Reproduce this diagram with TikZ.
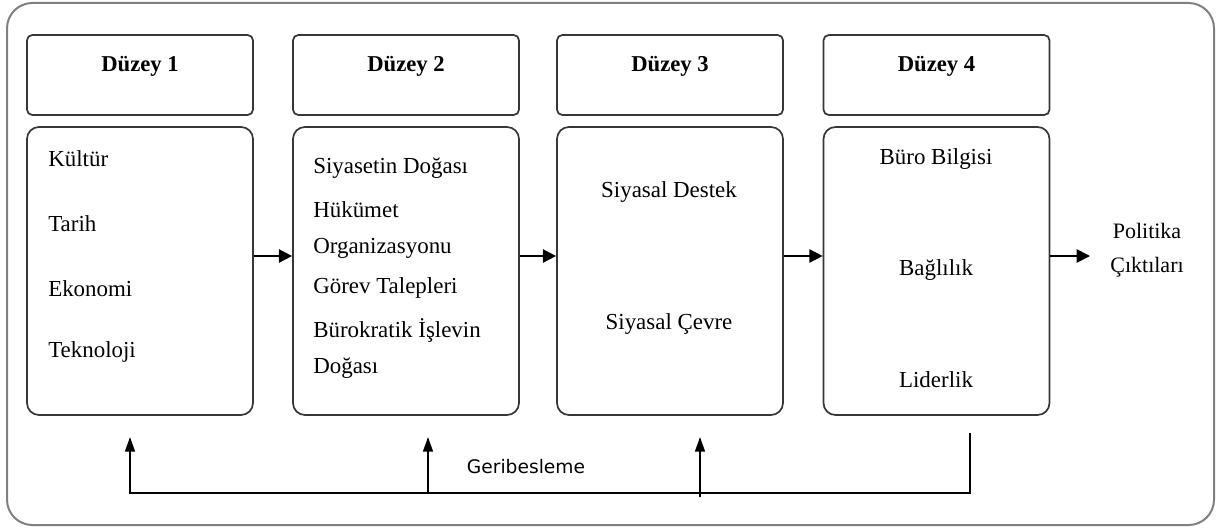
\documentclass[tikz,border=0pt]{standalone}
\usepackage{fontspec}
\setmainfont{Liberation Serif}
\newfontfamily\sansfb{DejaVu Sans}
\usetikzlibrary{positioning,arrows.meta}
\definecolor{FrameGray}{RGB}{128,128,128}
\definecolor{BoxEdge}{RGB}{55,55,55}

\begin{document}
\begin{tikzpicture}[x=0.75pt,y=-0.75pt,every node/.style={font=\fontsize{17.2}{20}\selectfont,inner sep=0pt},
  hdr/.style={draw=BoxEdge,line width=1.3pt,rounded corners=4pt,minimum width=169.5pt,minimum height=60pt},
  cnt/.style={draw=BoxEdge,line width=1.3pt,rounded corners=9pt,minimum width=169.5pt,minimum height=216pt},
  ttl/.style={font=\fontsize{17}{20}\selectfont\bfseries},
  flow/.style={-{Triangle[length=10pt,width=10pt]},line width=1.3pt},
  back/.style={-{Triangle[length=11pt,width=7.5pt]},line width=1.1pt}]
\useasboundingbox (0,0) rectangle (1216,528);
\draw[FrameGray,line width=1.5pt,rounded corners=19pt] (7,3) rectangle (1214,525);

% headers
\node[hdr] (h1) at (140,75) {};
\node[hdr] (h2) at (406,75) {};
\node[hdr] (h3) at (670,75) {};
\node[hdr] (h4) at (936.5,75) {};
\node[ttl] (d1) at (140,66) {Düzey 1};
\node[ttl] (d2) at (406,66) {Düzey 2};
\node[ttl] (d3) at (670,66) {Düzey 3};
\node[ttl] (d4) at (936.5,66) {Düzey 4};

% boxes
\node[cnt] (c1) at (140,271) {};
\node[cnt] (c2) at (406,271) {};
\node[cnt] (c3) at (670,271) {};
\node[cnt] (c4) at (936.5,271) {};

\node[anchor=west] (k1) at (48,159) {Kültür};
\node[anchor=west] (k2) at (48,224) {Tarih};
\node[anchor=west] (k3) at (48,289) {Ekonomi};
\node[anchor=west] (k4) at (48,352) {Teknoloji};

\node[anchor=west] (s1) at (313,168) {Siyasetin Doğası};
\node[anchor=west] (s2) at (313,210) {Hükümet};
\node[anchor=west] (s3) at (313,248) {Organizasyonu};
\node[anchor=west] (s4) at (313,288) {Görev Talepleri};
\node[anchor=west] (s5) at (313,330) {Bürokratik İşlevin};
\node[anchor=west] (s6) at (313,368) {Doğası};

\node (p1) at (669,192) {Siyasal Destek};
\node (p2) at (669,324) {Siyasal Çevre};

\node (b1) at (936,159) {Büro Bilgisi};
\node (b2) at (936,270) {Bağlılık};
\node (b3) at (936,380) {Liderlik};

\coordinate (out) at (1090,256);
\node[align=center,font=\fontsize{16.5}{25.5}\selectfont] (pol) at (1147,250) {Politika\\Çıktıları};

\draw[flow] ([yshift=11.25pt]c1.east) -- ([yshift=11.25pt]c2.west);
\draw[flow] ([yshift=11.25pt]c2.east) -- ([yshift=11.25pt]c3.west);
\draw[flow] ([yshift=11.25pt]c3.east) -- ([yshift=11.25pt]c4.west);
\draw[flow] ([yshift=11.25pt]c4.east) -- (out);

% feedback
\coordinate (f1) at (130,437);
\coordinate (f2) at (428,437);
\coordinate (f3) at (700,437);
\coordinate (f4) at (970,433);
\coordinate (g1) at (130,493);
\coordinate (g2) at (428,493);
\coordinate (g3) at (700,497);
\coordinate (g4) at (970,493);
\draw[back] (f4) -- (g4) -- (g1) -- (f1);
\draw[back] (g2) -- (f2);
\draw[back] (g3) -- (f3);
\node[font=\sansfb\fontsize{14}{16}\selectfont] (gb) at (526,467) {Geribesleme};
\end{tikzpicture}
\end{document}
